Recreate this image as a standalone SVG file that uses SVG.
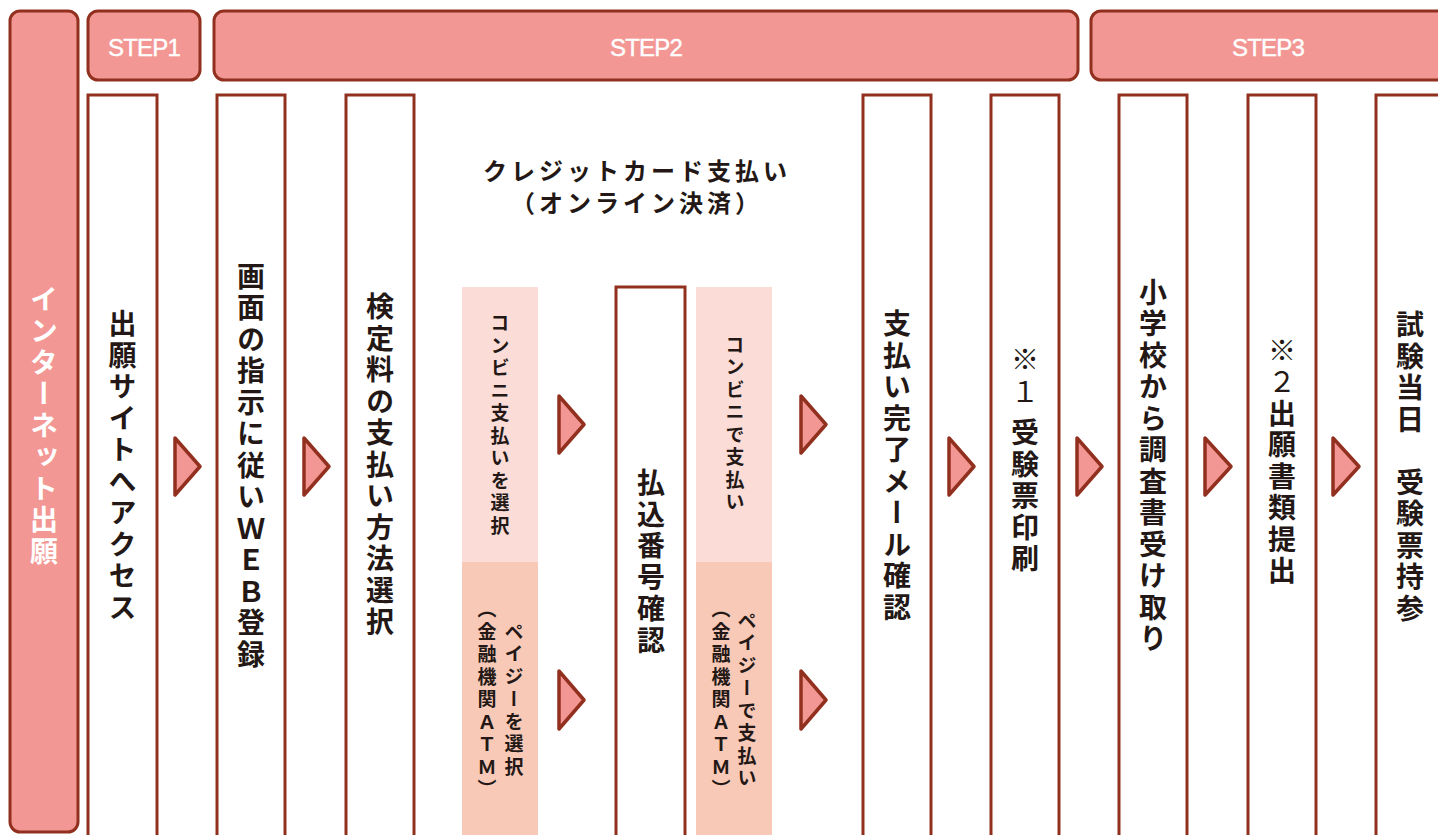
<svg xmlns="http://www.w3.org/2000/svg" width="1438" height="835" viewBox="0 0 1438 835">
<style>
.hdr{fill:#f39794;stroke:#92301f;stroke-width:3}
.col{fill:#ffffff;stroke:#92301f;stroke-width:3}
.arr{fill:#f39794;stroke:#92301f;stroke-width:3.5;stroke-linejoin:round}
.step{font-family:"Liberation Sans",Arial,sans-serif;font-size:24px;fill:#ffffff;text-anchor:middle;letter-spacing:-0.8px;stroke:#ffffff;stroke-width:0.4px}
.vt{font-family:"Noto Sans CJK JP",sans-serif;font-weight:700;font-size:28px;fill:#231815;writing-mode:vertical-rl;text-anchor:middle;letter-spacing:3.5px}
.vs{font-family:"Noto Sans CJK JP",sans-serif;font-weight:700;font-size:19px;fill:#231815;writing-mode:vertical-rl;text-anchor:middle;letter-spacing:3.5px}
.ttl{font-family:"Noto Sans CJK JP",sans-serif;font-weight:700;font-size:24px;fill:#231815;text-anchor:middle;letter-spacing:4px}
.rg{font-weight:400}
</style>
<rect width="1438" height="835" fill="#ffffff"/>

<g id="internet">
<rect class="hdr" x="10" y="11" width="68" height="821" rx="10"/>
<text class="vt" x="44" y="427" style="fill:#ffffff">インターネット出願</text>
</g>

<g id="step1"><rect class="hdr" x="88" y="11" width="112" height="69" rx="10"/><text class="step" x="144" y="56">STEP1</text></g>
<g id="step2"><rect class="hdr" x="214" y="11" width="864" height="69" rx="10"/><text class="step" x="646" y="56">STEP2</text></g>
<g id="step3"><rect class="hdr" x="1091" y="11" width="356" height="69" rx="10"/><text class="step" x="1268" y="56">STEP3</text></g>

<g id="n1"><rect class="col" x="88" y="95" width="69" height="760"/><text class="vt" x="122.5" y="467">出願サイトへアクセス</text></g>
<g id="n2"><rect class="col" x="217" y="95" width="68" height="760"/><text class="vt" x="251" y="467">画面の指示に従いＷＥＢ登録</text></g>
<g id="n3"><rect class="col" x="346" y="95" width="68" height="760"/><text class="vt" x="380" y="466">検定料の支払い方法選択</text></g>

<g id="credit">
<text class="ttl" x="637" y="180">クレジットカード支払い</text>
<text class="ttl" x="637" y="212">（オンライン決済）</text>
</g>

<g id="conv-select">
<rect x="462" y="287" width="76" height="275" fill="#fbdcd7"/>
<text class="vs" x="500" y="426">コンビニ支払いを選択</text>
</g>
<g id="payeasy-select">
<rect x="462" y="562" width="76" height="280" fill="#f9c9b8"/>
<text class="vs" x="514" y="701">ペイジーを選択</text>
<text class="vs" x="487" y="701">（金融機関ＡＴＭ）</text>
</g>

<g id="n4"><rect class="col" x="616" y="287" width="69" height="570"/><text class="vt" x="651" y="563">払込番号確認</text></g>

<g id="conv-pay">
<rect x="696" y="287" width="76" height="275" fill="#fbdcd7"/>
<text class="vs" x="735" y="425">コンビニで支払い</text>
</g>
<g id="payeasy-pay">
<rect x="696" y="562" width="76" height="280" fill="#f9c9b8"/>
<text class="vs" x="747" y="701">ペイジーで支払い</text>
<text class="vs" x="721" y="701">（金融機関ＡＴＭ）</text>
</g>

<g id="n5"><rect class="col" x="863" y="95" width="68" height="760"/><text class="vt" x="897" y="467">支払い完了メール確認</text></g>
<g id="n6"><rect class="col" x="991" y="95" width="68" height="760"/><text class="vt" x="1025" y="461"><tspan class="rg">※１ </tspan>受験票印刷</text></g>
<g id="n7"><rect class="col" x="1119" y="95" width="68" height="760"/><text class="vt" x="1153" y="467">小学校から調査書受け取り</text></g>
<g id="n8"><rect class="col" x="1248" y="95" width="68" height="760"/><text class="vt" x="1282" y="462"><tspan class="rg">※２</tspan>出願書類提出</text></g>
<g id="n9"><rect class="col" x="1376" y="95" width="68" height="760"/><text class="vt" x="1410" y="468">試験当日　受験票持参</text></g>

<g id="connectors">
<polygon class="arr" points="175,438 200,466.5 175,495"/>
<polygon class="arr" points="304,438 329,466.5 304,495"/>
<polygon class="arr" points="559,396 584,424.5 559,453"/>
<polygon class="arr" points="559,671 584,700 559,729"/>
<polygon class="arr" points="801,396 826,424.5 801,453"/>
<polygon class="arr" points="801,671 826,700 801,729"/>
<polygon class="arr" points="949,438 974,466.5 949,495"/>
<polygon class="arr" points="1077,438 1102,466.5 1077,495"/>
<polygon class="arr" points="1205,438 1231,466.5 1205,495"/>
<polygon class="arr" points="1333,438 1359,466.5 1333,495"/>
</g>
</svg>
